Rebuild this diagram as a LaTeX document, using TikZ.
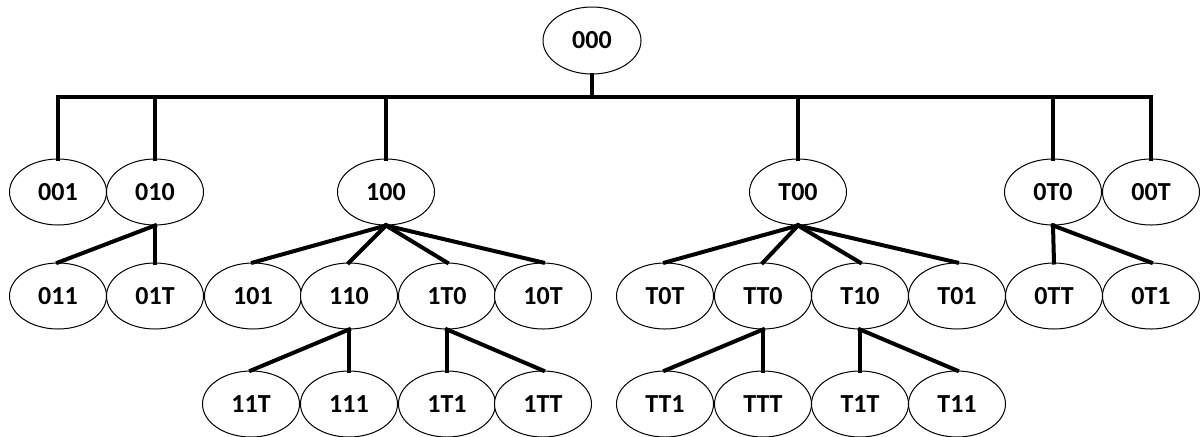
\documentclass[tikz,border=0pt]{standalone}
\usepackage{fontspec}
\setmainfont{Carlito}
\usetikzlibrary{shapes.geometric}
\tikzset{
	nut/.style={ellipse, draw, line width=0.5pt, fill=white, inner sep=0pt,
		minimum width=48.5pt, minimum height=33pt, font=\fontsize{13}{15}\selectfont\bfseries},
	canh/.style={line width=2pt, line cap=rect}
}
\begin{document}
\begin{tikzpicture}[x=0.5pt, y=-0.5pt, line join=round]
	\useasboundingbox (0,0) rectangle (1200,436);
	\def\ya{192} \def\yb{296} \def\yc{404} % Tung độ các tầng
	% Gốc
	\node[nut, minimum width=49pt, minimum height=33.5pt] (n000) at (592,40.5) {000};
	\coordinate (bus) at (592,97);
	% Tầng 1
	\foreach \x/\t in {58/001,155/010,386/100,798/T00,1053/0T0,1151/00T}
	\node[nut] (n\t) at (\x,\ya) {\t};
	% Tầng 2
	\foreach \x/\t in {58/011,155/01T,253/101,349/110,447/1T0,543/10T,665/T0T,763/TT0,860/T10,957/T01,1054/0TT,1151/0T1}
	\node[nut] (n\t) at (\x,\yb) {\t};
	% Tầng 3
	\foreach \x/\t in {251/11T,349/111,447/1T1,543/1TT,665/TT1,763/TTT,860/T1T,957/T11}
	\node[nut] (n\t) at (\x,\yc) {\t};
	
	\draw[canh] (n000.south) -- (n000.south |- bus);
	\draw[canh] (n001.north |- bus) -- (n00T.north |- bus);
	\foreach \t in {001,010,100,T00,0T0,00T}
	\draw[canh] (n\t.north) -- (n\t.north |- bus);
	
	\foreach \p/\c in {010/011,010/01T,100/101,100/110,100/1T0,100/10T,T00/T0T,T00/TT0,T00/T10,T00/T01,0T0/0TT,0T0/0T1,110/11T,110/111,1T0/1T1,1T0/1TT,TT0/TT1,TT0/TTT,T10/T1T,T10/T11}
	\draw[canh] (n\p.south) -- (n\c.north);
\end{tikzpicture}
\end{document}
